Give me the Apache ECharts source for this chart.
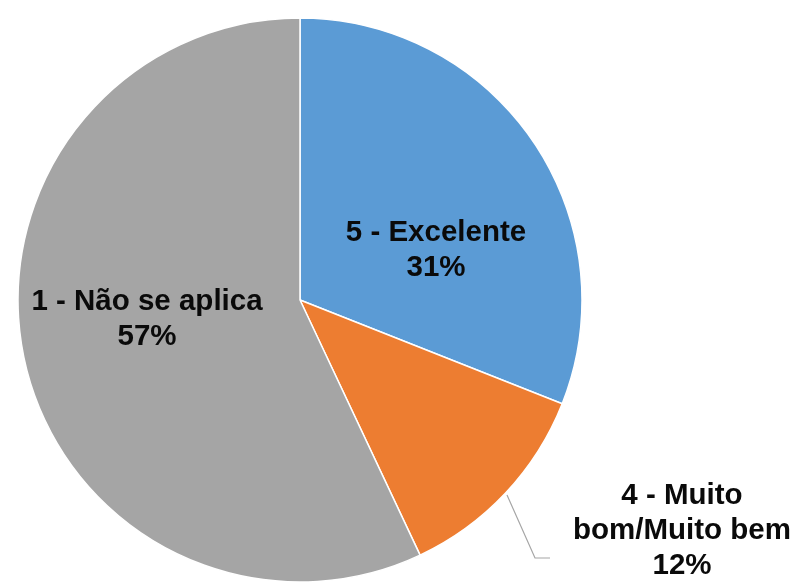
<!DOCTYPE html>
<html>
<head>
<meta charset="utf-8">
<script src="https://cdn.jsdelivr.net/npm/echarts@6/dist/echarts.min.js"></script>
<style>
  html, body { margin: 0; padding: 0; background: #ffffff; }
  #chart { width: 798px; height: 582px; }
</style>
</head>
<body>
<div id="chart"></div>
<script>
// Avaliação: distribuição das respostas
const categories = ['5 - Excelente', '4 - Muito\nbom/Muito bem', '1 - Não se aplica'];
const percents = [31, 12, 57];
const colors = ['#5B9BD5', '#ED7D31', '#A5A5A5'];

const chart = echarts.init(document.getElementById('chart'));

const data = categories.map((name, i) => ({
  name: name,
  value: percents[i],
  itemStyle: { color: colors[i] },
  label: i === 1 ? { position: 'outside' } : { position: 'inside' },
  labelLine: { show: i === 1 }
}));

chart.setOption({
  animation: false,
  series: [{
    type: 'pie',
    center: [300, 300],
    radius: 282,
    startAngle: 90,
    clockwise: true,
    data: data,
    itemStyle: { borderColor: '#ffffff', borderWidth: 1.5 },
    label: {
      show: true,
      formatter: p => p.name + '\n' + p.value + '%',
      fontFamily: 'Liberation Sans, Arial, sans-serif',
      fontWeight: 'bold',
      fontSize: 29.5,
      lineHeight: 35,
      color: '#0a0a0a',
      align: 'center'
    },
    labelLine: {
      lineStyle: { color: '#a6a6a6', width: 1.2 }
    },
    labelLayout: function (params) {
      const idx = params.dataIndex;
      if (idx === 0) {
        return { x: 436, y: 250, align: 'center', verticalAlign: 'middle' };
      }
      if (idx === 2) {
        return { x: 147, y: 319, align: 'center', verticalAlign: 'middle' };
      }
      return {
        x: 682, y: 531, align: 'center', verticalAlign: 'middle',
        labelLinePoints: [[507, 495], [535, 558], [550, 558]]
      };
    }
  }]
});
</script>
</body>
</html>
